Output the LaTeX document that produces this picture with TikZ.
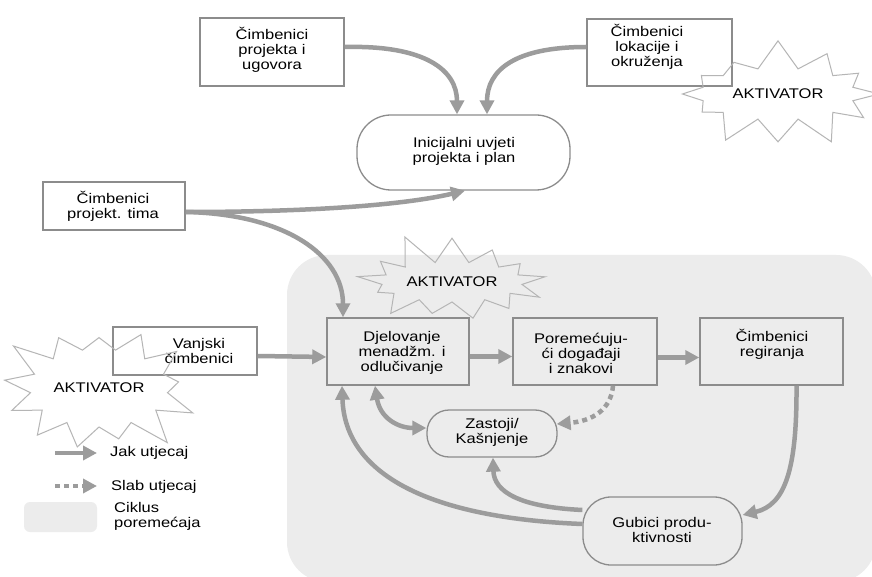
\documentclass[tikz,border=0pt]{standalone}
\usepackage{fontspec}
\setmainfont[FakeStretch=1.18]{Liberation Sans}
\usetikzlibrary{arrows.meta,shapes.symbols,shapes.misc}
\definecolor{regiongray}{HTML}{ECECEC}
\definecolor{boxgray}{HTML}{8C8C8C}
\definecolor{arrgray}{HTML}{9C9C9C}
\definecolor{stargray}{HTML}{B5B5B5}
\tikzset{
  lbl/.style={font=\fontsize{14}{15}\selectfont, align=center, inner sep=0pt},
  boxnode/.style={draw=boxgray, line width=1.5pt, rectangle, inner sep=0pt},
  roundnode/.style={draw=boxgray, line width=1.3pt, rectangle, inner sep=0pt},
  arr/.style={draw=arrgray, line width=4.5pt, -{Triangle[length=14pt,width=14pt]}},
  dblarr/.style={draw=arrgray, line width=4.5pt, {Triangle[length=14pt,width=14pt]}-{Triangle[length=14pt,width=14pt]}},
  weakarr/.style={draw=arrgray, line width=4.5pt, dash pattern=on 5pt off 4pt, -{Triangle[length=14pt,width=14pt]}},
  burst/.style={starburst, draw=stargray, line width=1pt, font=\fontsize{14}{15}\selectfont, inner sep=0pt},
}
\begin{document}
\begin{tikzpicture}[x=1pt,y=-1pt]
\useasboundingbox (0,0) rectangle (872,577);
\clip (0,0) rectangle (872,577);
\fill[white] (0,0) rectangle (872,577);
% disturbance cycle region
\fill[regiongray, rounded corners=40pt] (287,255) rectangle (876,582);

% top boxes
\node[boxnode, fill=white, minimum width=144pt, minimum height=68pt] (b1) at (272,52) {};
\node[lbl] (t1) at (272,50) {Čimbenici\\projekta i\\ugovora};
\node[boxnode, fill=white, minimum width=145pt, minimum height=67pt] (b2) at (659.5,52.5) {};
\node[lbl] (t2) at (647,47) {Čimbenici\\lokacije i\\okruženja};
\node[roundnode, fill=white, rounded corners=34pt, minimum width=213pt, minimum height=75pt] (ini) at (463.5,152.5) {};
\node[lbl] (tini) at (464,151) {Inicijalni uvjeti\\projekta i plan};
\node[boxnode, fill=white, minimum width=142pt, minimum height=48pt] (b3) at (114,206) {};
\node[lbl] (t3) at (113,206) {Čimbenici\\projekt. tima};
\node[boxnode, fill=white, minimum width=144pt, minimum height=48pt] (van) at (185,351) {};
\node[lbl] (tvan) at (199,351) {Vanjski\\čimbenici};

% cycle boxes
\node[boxnode, minimum width=142pt, minimum height=67pt] (dj) at (398,351.5) {};
\node[lbl] (tdj) at (402,353) {Djelovanje\\menadžm. i\\odlučivanje};
\node[boxnode, minimum width=144pt, minimum height=67pt] (po) at (585,351.5) {};
\node[lbl] (tpo) at (581,353) {Poremećuju-\\ći događaji\\i znakovi};
\node[boxnode, minimum width=143pt, minimum height=67pt] (reg) at (771.5,351.5) {};
\node[lbl] (treg) at (772,344) {Čimbenici\\regiranja};
\node[roundnode, rounded corners=22pt, minimum width=130pt, minimum height=47pt] (za) at (492,433.5) {};
\node[lbl] (tza) at (492,432) {Zastoji/\\Kašnjenje};
\node[roundnode, rounded corners=28pt, minimum width=159pt, minimum height=68pt] (gub) at (662.5,531) {};
\node[lbl] (tgub) at (662,530) {Gubici produ-\\ktivnosti};

% activators
\node[burst, starburst points=12, starburst point height=30pt, random starburst=7, minimum width=215pt, minimum height=112pt] (a1) at (778,94) {AKTIVATOR};
\node[burst, starburst points=13, starburst point height=32pt, random starburst=11, minimum width=205pt, minimum height=104pt] (a2) at (452,282) {AKTIVATOR};
\node[burst, starburst points=13, starburst point height=36pt, random starburst=3, minimum width=210pt, minimum height=150pt] (a3) at (99,388) {AKTIVATOR};

% connectors
\draw[arr] ([yshift=5pt]b1.east) .. controls (425,45) and (457,70) .. ([xshift=-6.5pt]ini.north);
\draw[arr] ([yshift=5.5pt]b2.west) .. controls (515,47) and (487,70) .. ([xshift=23.5pt]ini.north);
\draw[arr] ([yshift=-6pt]b3.east) .. controls (300,212) and (400,206) .. ([xshift=1.5pt]ini.south);
\draw[arr] ([yshift=-6pt]b3.east) .. controls (285,214) and (343,255) .. ([xshift=-55pt]dj.north);
\draw[arr] ([yshift=-5pt]van.east) -- ([yshift=-5.5pt]dj.west);
\draw[arr] ([yshift=-5pt]dj.east) -- ([yshift=-5pt]po.west);
\draw[arr] ([yshift=-6pt]po.east) -- ([yshift=-6pt]reg.west);
\draw[arr] ([xshift=25pt]reg.south) .. controls (797,470) and (785,505) .. ([yshift=16pt]gub.east);
\draw[weakarr] ([xshift=28pt]po.south) .. controls (611,410) and (592,421) .. ([yshift=9.5pt,xshift=-1pt]za.east);
\draw[dblarr] ([xshift=-23pt]dj.south) .. controls (380,418) and (398,428) .. ([yshift=5.5pt]za.west);
\draw[arr] ([yshift=21pt]gub.west) .. controls (520,507) and (494,492) .. ([xshift=1pt]za.south);
\draw[arr] ([yshift=7pt]gub.west) .. controls (430,518) and (345,475) .. ([xshift=-56pt]dj.south);

% legend
\coordinate (l1a) at (55,453);
\coordinate (l1b) at (97,453);
\draw[arr, line width=4pt] (l1a) -- (l1b);
\node[lbl, anchor=west] (lj) at (110,453) {Jak utjecaj};
\coordinate (l2a) at (55,486);
\coordinate (l2b) at (97,486);
\draw[weakarr, line width=4pt] (l2a) -- (l2b);
\node[lbl, anchor=west] (ls) at (111,487) {Slab utjecaj};
\node[fill=regiongray, rounded corners=6pt, minimum width=73pt, minimum height=30pt, inner sep=0pt] (lc) at (60.5,517) {};
\node[lbl, anchor=west, align=left] (lct) at (114,516) {Ciklus\\poremećaja};
\end{tikzpicture}
\end{document}
